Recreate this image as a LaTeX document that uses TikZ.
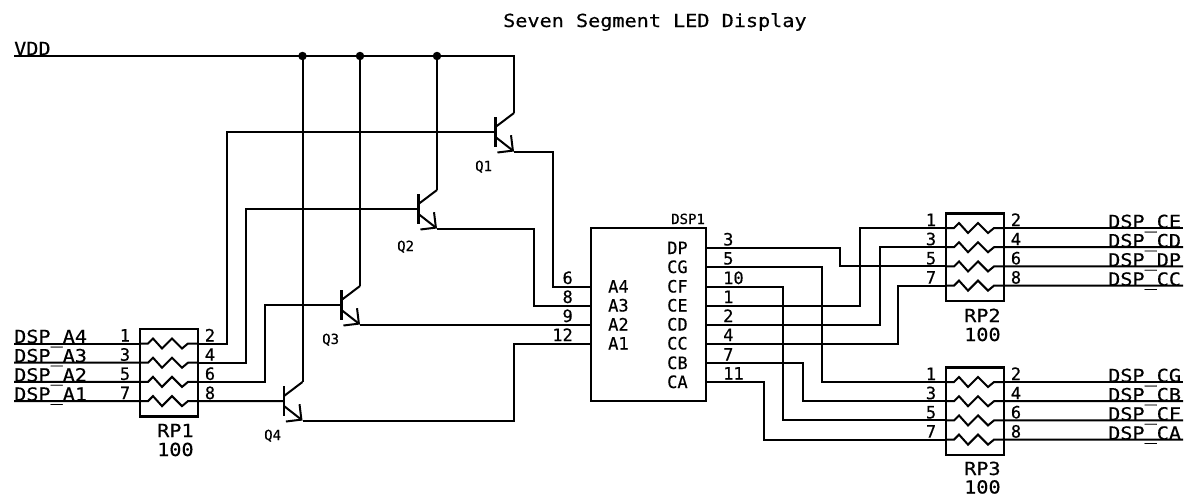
\documentclass[tikz,border=0pt]{standalone}
\usepackage{fontspec}
\usetikzlibrary{arrows.meta}
\newfontfamily\schfont[FakeStretch=1.12,FakeBold=0.4]{DejaVu Sans Mono}
\newfontfamily\pinfont[FakeBold=0.4]{DejaVu Sans Mono}
\tikzset{
  wire/.style={line width=2pt,line join=miter},
  partline/.style={line width=2.6pt},
  dot/.style={circle,fill=black,inner sep=0pt,minimum size=8.5pt},
  bigtext/.style={inner sep=0pt,anchor=base west,font=\schfont\fontsize{18}{18}\selectfont},
  pintext/.style={inner sep=0pt,font=\pinfont\fontsize{17}{17}\selectfont},
  smalltext/.style={inner sep=0pt,anchor=base west,font=\pinfont\fontsize{14}{14}\selectfont},
}
% name, x and y of the base end
\newcommand{\transistor}[3]{
  \coordinate (#1-b) at (#2,#3);
  \coordinate (#1-c) at (#2+18.5,#3-19);
  \coordinate (#1-e) at (#2+18.5,#3+19.5);
  \draw[partline] (#2,#3-15) -- (#2,#3+15);
  \draw[partline] (#2-20,#3) -- (#1-b);
  \draw[wire] (#2,#3-5) -- (#1-c);
  \draw[wire,-{Straight Barb[length=11pt,width=22pt]}] (#2,#3+5) -- (#1-e);
}
% name, x and y of the top left corner
\newcommand{\respack}[3]{
  \draw[partline] (#2,#3) rectangle (#2+58,#3+87.5);
  \foreach \row/\lpin/\rpin in {0/1/2,1/3/4,2/5/6,3/7/8}{
    \pgfmathsetmacro{\ypin}{#3+14.5+19.2*\row}
    \coordinate (#1-\lpin) at (#2,\ypin);
    \coordinate (#1-\rpin) at (#2+58,\ypin);
    \draw[wire] (#1-\lpin) -- ++(8,0) -- ++(5,-5) -- ++(9,10) -- ++(10,-10) -- ++(10,10) -- ++(6,-5) -- (#1-\rpin);
    \node[pintext,anchor=base] (#1-t\lpin) at (#2-15,\ypin-2) {\lpin};
    \node[pintext,anchor=base] (#1-t\rpin) at (#2+70,\ypin-2) {\rpin};
  }
}
\begin{document}
\begin{tikzpicture}[x=1pt,y=-1pt]
\useasboundingbox (0,0) rectangle (1186,496);

\node[bigtext] (title) at (503,27) {Seven Segment LED Display};

\coordinate (VDD) at (14,56);
\node[bigtext] (VDDt) at (14,55) {VDD};
\node[dot] (J1) at (302.5,56) {};
\node[dot] (J2) at (360,56) {};
\node[dot] (J3) at (437,56) {};

\transistor{Q1}{495.5}{132}
\transistor{Q2}{418.5}{209}
\transistor{Q3}{341.5}{305}
\transistor{Q4}{284}{401}
\node[smalltext] (Q1t) at (475,171) {Q1};
\node[smalltext] (Q2t) at (397,251) {Q2};
\node[smalltext] (Q3t) at (322,344) {Q3};
\node[smalltext] (Q4t) at (264,440) {Q4};

\respack{RP1}{140}{329}
\respack{RP2}{946}{213.5}
\respack{RP3}{946}{367.5}
\node[bigtext] (RP1n) at (157,437) {RP1};
\node[bigtext] (RP1v) at (157,456) {100};
\node[bigtext] (RP2n) at (964,322) {RP2};
\node[bigtext] (RP2v) at (964,341) {100};
\node[bigtext] (RP3n) at (964,475) {RP3};
\node[bigtext] (RP3v) at (964,493.5) {100};

\draw[partline] (591,228) rectangle (706,401);
\node[smalltext] (DSP1) at (671,224) {DSP1};
\foreach \pname/\pin/\ypin in {A4/6/286.5,A3/8/305.5,A2/9/324.5,A1/12/343.5}{
  \coordinate (DSP-\pname) at (591,\ypin);
  \node[pintext,anchor=base west] (DSP-n\pname) at (608,\ypin+6) {\pname};
  \node[pintext,anchor=base east] (DSP-t\pname) at (573,\ypin-2.5) {\pin};
}
\foreach \pname/\pin/\ypin in {DP/3/248,CG/5/267,CF/10/286.5,CE/1/305.5,CD/2/324.5,CC/4/343.5,CB/7/363,CA/11/382}{
  \coordinate (DSP-\pname) at (706,\ypin);
  \node[pintext,anchor=base west] (DSP-n\pname) at (667,\ypin+6) {\pname};
  \node[pintext,anchor=base west] (DSP-t\pname) at (723,\ypin-2.5) {\pin};
}

% left side signals
\foreach \pin/\sname in {1/DSP\_A4,3/DSP\_A3,5/DSP\_A2,7/DSP\_A1}{
  \coordinate (L\pin) at (14,{343.5+9.6*(\pin-1)});
  \draw[wire] (L\pin) -- (RP1-\pin);
  \node[bigtext] (L\pin t) at (14,{343+9.6*(\pin-1)}) {\sname};
}
% right side signals
\foreach \pin/\sname in {2/DSP\_CE,4/DSP\_CD,6/DSP\_DP,8/DSP\_CC}{
  \coordinate (RA\pin) at (1183,{228+9.6*(\pin-2)});
  \draw[wire] (RP2-\pin) -- (RA\pin);
  \node[bigtext] (RA\pin t) at (1108,{228+9.6*(\pin-2)}) {\sname};
}
\foreach \pin/\sname in {2/DSP\_CG,4/DSP\_CB,6/DSP\_CF,8/DSP\_CA}{
  \coordinate (RB\pin) at (1183,{382+9.6*(\pin-2)});
  \draw[wire] (RP3-\pin) -- (RB\pin);
  \node[bigtext] (RB\pin t) at (1108,{382+9.6*(\pin-2)}) {\sname};
}

% supply
\draw[wire] (VDD) -- (J1.center) -- (J2.center) -- (J3.center) -| (Q1-c);
\draw[wire] (J3.center) -- (Q2-c);
\draw[wire] (J2.center) -- (Q3-c);
\draw[wire] (J1.center) -- (Q4-c);

% bases
\draw[wire] (RP1-2) -- ++(29,0) |- (Q1-b);
\draw[wire] (RP1-4) -- ++(48,0) |- (Q2-b);
\draw[wire] (RP1-6) -- ++(67,0) |- (Q3-b);
\draw[wire] (RP1-8) -- (Q4-b);

% emitters
\draw[wire] (Q1-e) -- ++(39,0) |- (DSP-A4);
\draw[wire] (Q2-e) -- ++(97,0) |- (DSP-A3);
\draw[wire] (Q3-e) -- (DSP-A2);
\draw[wire] (Q4-e) -- ++(211,0) |- (DSP-A1);

% segments
\draw[wire] (DSP-DP) -- ++(134,0) |- (RP2-5);
\draw[wire] (DSP-CG) -- ++(116,0) |- (RP3-1);
\draw[wire] (DSP-CF) -- ++(77,0) |- (RP3-5);
\draw[wire] (DSP-CE) -- ++(154,0) |- (RP2-1);
\draw[wire] (DSP-CD) -- ++(174,0) |- (RP2-3);
\draw[wire] (DSP-CC) -- ++(192,0) |- (RP2-7);
\draw[wire] (DSP-CB) -- ++(97,0) |- (RP3-3);
\draw[wire] (DSP-CA) -- ++(58,0) |- (RP3-7);
\end{tikzpicture}
\end{document}
